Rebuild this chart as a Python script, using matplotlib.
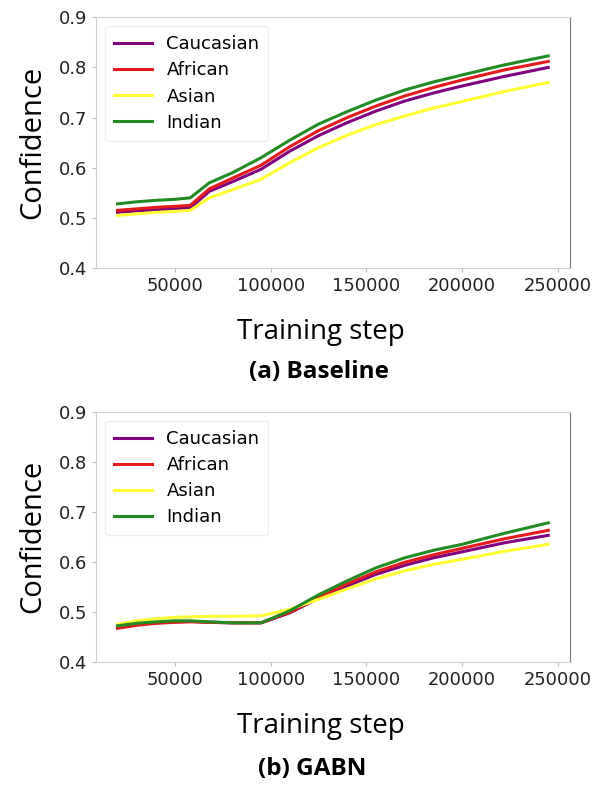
import numpy as np
import matplotlib.pyplot as plt

# training steps (shared by both panels)
steps = [20000, 30000, 40000, 50000, 58000, 68000, 80000, 95000, 110000, 125000,
         140000, 155000, 170000, 185000, 200000, 222000, 245000]

grupos = ["Caucasian", "African", "Asian", "Indian"]
colores = ["#800080", "#e41a1c", "#ffff33", "#228b22"]

# (a) Baseline
base_cau = [0.511, 0.514, 0.516, 0.518, 0.520, 0.553, 0.572, 0.597, 0.633, 0.664,
            0.690, 0.713, 0.733, 0.749, 0.763, 0.782, 0.800]
base_afr = [0.515, 0.518, 0.521, 0.523, 0.525, 0.558, 0.579, 0.605, 0.642, 0.674,
            0.700, 0.723, 0.743, 0.760, 0.775, 0.795, 0.812]
base_asi = [0.505, 0.508, 0.511, 0.513, 0.515, 0.540, 0.556, 0.577, 0.610, 0.640,
            0.665, 0.686, 0.703, 0.719, 0.732, 0.752, 0.770]
base_ind = [0.528, 0.532, 0.535, 0.537, 0.540, 0.570, 0.590, 0.620, 0.655, 0.687,
            0.712, 0.735, 0.755, 0.771, 0.785, 0.805, 0.823]

# (b) GABN
gabn_cau = [0.470, 0.475, 0.478, 0.480, 0.481, 0.479, 0.478, 0.478, 0.498, 0.527,
            0.552, 0.575, 0.593, 0.608, 0.620, 0.638, 0.653]
gabn_afr = [0.467, 0.473, 0.477, 0.479, 0.480, 0.479, 0.478, 0.478, 0.499, 0.529,
            0.556, 0.580, 0.599, 0.614, 0.627, 0.646, 0.663]
gabn_asi = [0.475, 0.482, 0.486, 0.489, 0.490, 0.491, 0.491, 0.492, 0.505, 0.525,
            0.546, 0.566, 0.582, 0.595, 0.605, 0.621, 0.635]
gabn_ind = [0.472, 0.477, 0.480, 0.482, 0.482, 0.480, 0.478, 0.478, 0.502, 0.534,
            0.562, 0.588, 0.608, 0.623, 0.635, 0.657, 0.678]

paneles = [
    ("(a) Baseline", [base_cau, base_afr, base_asi, base_ind]),
    ("(b) GABN", [gabn_cau, gabn_afr, gabn_asi, gabn_ind]),
]

fig = plt.figure(figsize=(5.96, 7.86), dpi=100)
posiciones = [[0.161, 0.659, 0.795, 0.319], [0.161, 0.158, 0.795, 0.318]]
captions = [(0.535, 0.527), (0.523, 0.021)]

for (titulo, series), pos, (cx, cy) in zip(paneles, posiciones, captions):
    ax = fig.add_axes(pos)
    for nombre, col, vals in zip(grupos, colores, series):
        ax.plot(steps, vals, color=col, lw=2.2, label=nombre)
    ax.set_ylim(0.4, 0.9)
    ax.set_xlim(8750, 256250)
    ax.set_xticks([50000, 100000, 150000, 200000, 250000])
    ax.set_yticks([0.4, 0.5, 0.6, 0.7, 0.8, 0.9])
    ax.tick_params(labelsize=12.9, length=3, color="#bbbbbb", labelcolor="#222222")
    for lado in ["top", "left", "bottom"]:
        ax.spines[lado].set_color("#d0d0d0")
    ax.spines["right"].set_color("#777777")
    ax.set_ylabel("Confidence", fontsize=21, family="Open Sans", labelpad=8)
    ax.set_xlabel("Training step", fontsize=20, family="Open Sans")
    ax.xaxis.set_label_coords(0.475, -0.2)
    leg = ax.legend(loc="upper left", fontsize=13, handlelength=2.1,
                    borderpad=0.5, labelspacing=0.45, framealpha=1)
    leg.get_frame().set_edgecolor("#eeeeee")
    fig.text(cx, cy, titulo, ha="center", va="center", fontsize=17.5,
             fontweight="bold", family="Open Sans")

plt.savefig("out.png", dpi=100)
